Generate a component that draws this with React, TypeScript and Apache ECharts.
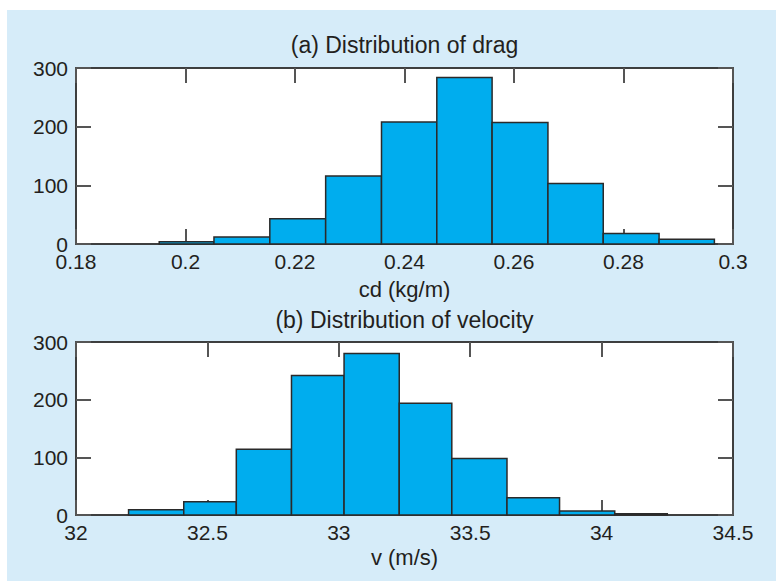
import React, { useEffect, useRef } from "react";
import * as echarts from "echarts";

// Histogram (a): drag coefficient bins (edges) and counts
const dragEdges = [0.1952, 0.2052, 0.2154, 0.2256, 0.2358, 0.2459, 0.256, 0.2662, 0.2763, 0.2865, 0.2966];
const dragCounts = [4, 12, 43, 116, 208, 284, 207, 103, 18, 8];
const dragTicks = [0.18, 0.2, 0.22, 0.24, 0.26, 0.28, 0.3];

// Histogram (b): velocity bins (edges) and counts
const velEdges = [32.2, 32.41, 32.61, 32.82, 33.02, 33.23, 33.43, 33.64, 33.84, 34.05, 34.25];
const velCounts = [9, 23, 114, 242, 280, 194, 98, 30, 7, 2];
const velTicks = [32, 32.5, 33, 33.5, 34, 34.5];

const countTicks = [0, 100, 200, 300];

const titleA = "(a) Distribution of drag";
const titleB = "(b) Distribution of velocity";
const xLabelA = "cd (kg/m)";
const xLabelB = "v (m/s)";

const FONT = '"Liberation Sans", Arial, sans-serif';
const TEXT = "#231F20";
const FILL = "#00ADEE";
const EDGE = "#2A2A2A";
const PANEL = "#D6ECF9";

function histData(edges: number[], counts: number[]) {
  return counts.map((c, i) => [edges[i], edges[i + 1], c]);
}

function renderBar(params: any, api: any) {
  const x0 = api.value(0);
  const x1 = api.value(1);
  const c = api.value(2);
  const p0 = api.coord([x0, c]);
  const p1 = api.coord([x1, 0]);
  return {
    type: "rect",
    shape: { x: p0[0], y: p0[1], width: p1[0] - p0[0], height: p1[1] - p0[1] },
    style: { fill: FILL, stroke: EDGE, lineWidth: 1.5 },
  };
}

function xAxes(gridIndex: number, ticks: number[], decimals: number) {
  const min = ticks[0];
  const max = ticks[ticks.length - 1];
  const interval = ticks[1] - ticks[0];
  const base = {
    type: "value",
    gridIndex,
    min,
    max,
    interval,
    splitLine: { show: false },
    axisLine: { show: true, onZero: false, lineStyle: { color: "#333", width: 1.5 } },
    axisTick: { show: true, inside: true, length: 15, lineStyle: { color: "#555", width: 2 } },
  };
  return [
    {
      ...base,
      position: "bottom",
      axisLabel: {
        show: true,
        fontSize: 21,
        lineHeight: 16,
        fontFamily: FONT,
        color: TEXT,
        margin: 9,
        showMinLabel: true,
        showMaxLabel: true,
        formatter: (v: number) => String(+v.toFixed(decimals)),
      },
    },
    { ...base, position: "top", axisLabel: { show: false } },
  ];
}

function yAxes(gridIndex: number) {
  const base = {
    type: "value",
    gridIndex,
    min: countTicks[0],
    max: countTicks[countTicks.length - 1],
    interval: countTicks[1] - countTicks[0],
    splitLine: { show: false },
    axisLine: { show: true, onZero: false, lineStyle: { color: "#333", width: 1.5 } },
    axisTick: { show: true, inside: true, length: 15, lineStyle: { color: "#555", width: 2 } },
  };
  return [
    {
      ...base,
      position: "left",
      axisLabel: { show: true, fontSize: 21, lineHeight: 15, fontFamily: FONT, color: TEXT, margin: 8 },
    },
    { ...base, position: "right", axisLabel: { show: false } },
  ];
}

export default function App() {
  const ref = useRef<HTMLDivElement>(null);
  useEffect(() => {
    document.body.style.margin = "0";
    const chart = echarts.init(ref.current!, undefined, { renderer: "svg" });
    const label = (text: string, x: number, y: number, size: number) => ({
      type: "text",
      x,
      y,
      z: 10,
      style: {
        text,
        textAlign: "center",
        textVerticalAlign: "middle",
        fontSize: size,
        fontFamily: FONT,
        fill: TEXT,
      },
    });
    chart.setOption({
      animation: false,
      backgroundColor: "#ffffff",
      grid: [
        { left: 76, top: 68, width: 657, height: 176, show: true, backgroundColor: "#ffffff", borderColor: "#333", borderWidth: 1.5 },
        { left: 76, top: 342, width: 657, height: 173, show: true, backgroundColor: "#ffffff", borderColor: "#333", borderWidth: 1.5 },
      ],
      xAxis: [...xAxes(0, dragTicks, 2), ...xAxes(1, velTicks, 1)],
      yAxis: [...yAxes(0), ...yAxes(1)],
      graphic: [
        { type: "rect", z: -100, shape: { x: 7, y: 10, width: 769, height: 571 }, style: { fill: PANEL } },
        label(titleA, 404.5, 45, 23),
        label(xLabelA, 404.5, 289, 22),
        label(titleB, 404.5, 320, 23),
        label(xLabelB, 404.5, 557, 22),
      ],
      series: [
        {
          type: "custom",
          xAxisIndex: 0,
          yAxisIndex: 0,
          renderItem: renderBar,
          encode: { x: [0, 1], y: 2 },
          data: histData(dragEdges, dragCounts),
        },
        {
          type: "custom",
          xAxisIndex: 2,
          yAxisIndex: 2,
          renderItem: renderBar,
          encode: { x: [0, 1], y: 2 },
          data: histData(velEdges, velCounts),
        },
      ],
    });
    return () => chart.dispose();
  }, []);
  return <div ref={ref} style={{ position: "absolute", left: 0, top: 0, width: 776, height: 581 }} />;
}
